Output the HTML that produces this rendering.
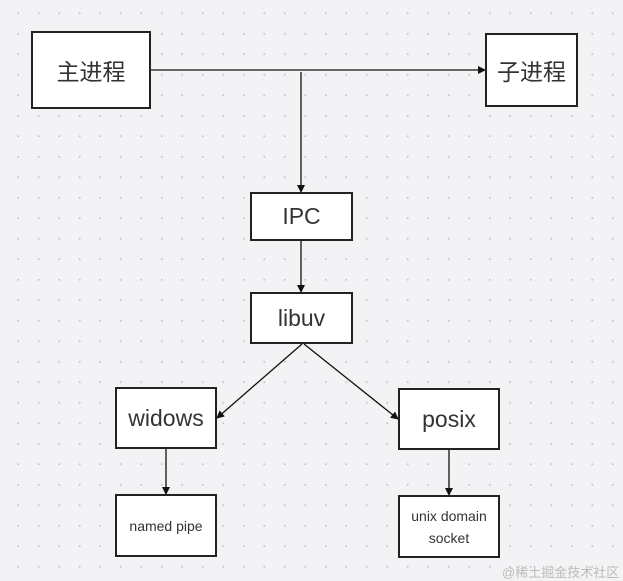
<!DOCTYPE html>
<html><head><meta charset="utf-8"><style>
body{margin:0;width:623px;height:581px;overflow:hidden;background:#f3f3f5;
background-image:radial-gradient(circle,#c8c8cc 0.8px,transparent 1.2px);background-size:20.5px 20.5px;background-position:8px 3px;}
.b{position:absolute;background:#fff;border:2px solid #222;box-sizing:border-box;display:flex;align-items:center;justify-content:center;text-align:center;color:#333;font-family:"Liberation Sans","Noto Sans CJK SC",sans-serif;}
</style></head><body>
<svg width="623" height="581" style="position:absolute;left:0;top:0">
<defs><marker id="a" markerWidth="8" markerHeight="8" refX="7" refY="4" orient="auto" markerUnits="userSpaceOnUse"><path d="M0,0 L8,4 L0,8z" fill="#111"/></marker></defs>
<g stroke="#111" stroke-width="1.3" fill="none">
<line x1="150" y1="70" x2="485" y2="70" marker-end="url(#a)"/>
<line x1="301" y1="72" x2="301" y2="192" marker-end="url(#a)"/>
<line x1="301" y1="240" x2="301" y2="292" marker-end="url(#a)"/>
<line x1="302" y1="344" x2="217" y2="418" marker-end="url(#a)"/>
<line x1="304" y1="344" x2="398" y2="419" marker-end="url(#a)"/>
<line x1="166" y1="448" x2="166" y2="494" marker-end="url(#a)"/>
<line x1="449" y1="449" x2="449" y2="495" marker-end="url(#a)"/>
</g></svg>
<div class="b" style="left:31px;top:31px;width:120px;height:78px;font-size:23px">主进程</div>
<div class="b" style="left:485px;top:33px;width:93px;height:74px;font-size:23px">子进程</div>
<div class="b" style="left:250px;top:192px;width:103px;height:49px;font-size:23px">IPC</div>
<div class="b" style="left:250px;top:292px;width:103px;height:52px;font-size:23px">libuv</div>
<div class="b" style="left:115px;top:387px;width:102px;height:62px;font-size:23px">widows</div>
<div class="b" style="left:398px;top:388px;width:102px;height:62px;font-size:23px">posix</div>
<div class="b" style="left:115px;top:494px;width:102px;height:63px;font-size:14px">named pipe</div>
<div class="b" style="left:398px;top:495px;width:102px;height:63px;font-size:14px;line-height:22px">unix domain<br>socket</div>
<div style="position:absolute;left:502px;top:562px;font-size:13px;color:#bbb;font-family:'Liberation Sans','Noto Sans CJK SC',sans-serif">@稀土掘金技术社区</div>
</body></html>
